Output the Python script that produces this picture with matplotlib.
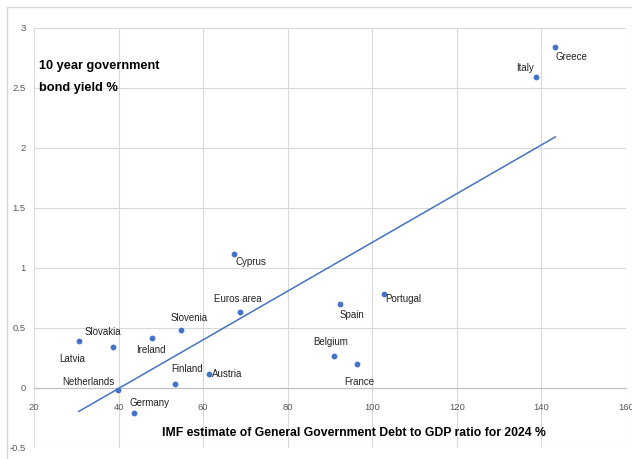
import numpy as np
import matplotlib
matplotlib.use("Agg")
import matplotlib.pyplot as plt
from matplotlib.patches import Rectangle

plt.rcParams['font.family'] = ['Liberation Sans Narrow', 'Liberation Sans', 'DejaVu Sans']

countries = ["Latvia", "Slovakia", "Netherlands", "Germany", "Ireland", "Slovenia",
             "Finland", "Austria", "Cyprus", "Euros area", "Spain", "Portugal",
             "Belgium", "France", "Italy", "Greece"]
debt = [30.6, 38.6, 39.8, 43.6, 47.9, 54.8, 53.3, 61.3, 67.3, 68.7,
        92.4, 102.8, 91.0, 96.4, 138.6, 143.3]
yields = [0.39, 0.34, -0.02, -0.21, 0.41, 0.48, 0.03, 0.11, 1.11, 0.63,
          0.70, 0.78, 0.26, 0.20, 2.59, 2.84]

# label offsets in pixels (dx, dy) from each dot
offsets = {
    "Latvia": (-7, -18), "Slovakia": (-10, 15), "Netherlands": (-29, 8),
    "Germany": (16, 10), "Ireland": (-1, -12), "Slovenia": (8, 12),
    "Finland": (12, 15), "Austria": (19, 0), "Cyprus": (17, -8),
    "Euros area": (-2, 13), "Spain": (12, -11), "Portugal": (19, -5),
    "Belgium": (-4, 14), "France": (2, -18), "Italy": (-11, 9),
    "Greece": (16, -10),
}

fig = plt.figure(figsize=(6.32, 4.59), dpi=100)
fig.patches.append(Rectangle((7 / 632, -0.1), 1.2, 1 - 7 / 459 + 0.1,
                             transform=fig.transFigure, fill=False,
                             edgecolor="#d9d9d9", linewidth=1))
ax = fig.add_axes([34 / 632, 1 - 447.5 / 459, (626 - 34) / 632, (447.5 - 27.7) / 459])

ax.set_xlim(20, 160)
ax.set_ylim(-0.5, 3)
ax.set_xticks(np.arange(20, 161, 20))
ax.set_yticks(np.arange(-0.5, 3.01, 0.5))
ax.set_yticklabels(["-0.5", "0", "0.5", "1", "1.5", "2", "2.5", "3"])
ax.grid(True, color="#d9d9d9", linewidth=0.8)
ax.set_axisbelow(True)
for s in ["top", "right", "left"]:
    ax.spines[s].set_visible(False)
ax.spines["bottom"].set_position(("data", 0))
ax.spines["bottom"].set_color("#bfbfbf")
ax.tick_params(length=0, labelsize=6.8, labelcolor="#595959")
ax.tick_params(axis="x", pad=11)
ax.tick_params(axis="y", pad=6)
for lbl in ax.get_xticklabels() + ax.get_yticklabels():
    lbl.set_clip_on(False)

# linear trend line across the data range
slope, intercept = np.polyfit(debt, yields, 1)
tx = np.array([min(debt), max(debt)])
ax.plot(tx, slope * tx + intercept, color="#4472c4", linewidth=1.1, zorder=2)

ax.scatter(debt, yields, s=10, color="#4472c4", zorder=3)
for name, x, y in zip(countries, debt, yields):
    dx, dy = offsets[name]
    ax.annotate(name, (x, y), xytext=(dx, dy), textcoords="offset pixels",
                ha="center", va="center", fontsize=7, color="#222222")

ax.text(39 / 632, 1 - 77 / 459, "10 year government\nbond yield %", transform=fig.transFigure,
        ha="left", va="center", fontsize=9.2, fontweight="bold", linespacing=2.0)
ax.text(354 / 632, 1 - 433 / 459,
        "IMF estimate of General Government Debt to GDP ratio for 2024 %",
        transform=fig.transFigure, ha="center", va="center", fontsize=8.8, fontweight="bold")

fig.savefig("out.png", dpi=100)
